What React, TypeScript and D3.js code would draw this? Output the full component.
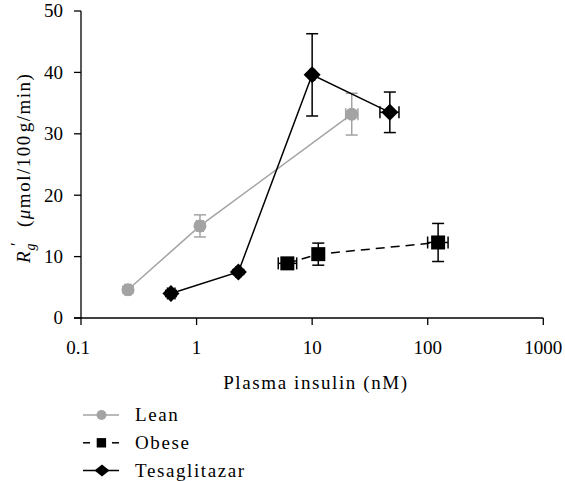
import React from "react";
import * as d3 from "d3";

const leanX = [0.255, 1.07, 22];
const leanY = [4.6, 15.0, 33.2];
const leanYErr = [0.5, 1.8, 3.4];
const leanXLo = [0.24, 1.0, 19.5];
const leanXHi = [0.27, 1.14, 24.9];

const obeseX = [6.1, 11.3, 123];
const obeseY = [8.9, 10.4, 12.3];
const obeseYErr = [0.6, 1.8, 3.1];
const obeseXLo = [5.09, 10.4, 99.8];
const obeseXHi = [7.35, 12.3, 150];

const tesX = [0.6, 2.3, 10, 47];
const tesY = [4.0, 7.5, 39.6, 33.5];
const tesYErr = [0.5, 0.4, 6.7, 3.3];
const tesXLo = [0.56, 2.2, 9.6, 38.6];
const tesXHi = [0.65, 2.4, 10.5, 56.4];

const xTicks = [0.1, 1, 10, 100, 1000];
const yTicks = [0, 10, 20, 30, 40, 50];
const legendLabels = ["Lean", "Obese", "Tesaglitazar"];

const W = 565, H = 481;
const FONT = '"Liberation Serif"';

export default function App() {
  const x = d3.scaleLog().domain([0.1, 1000]).range([81, 543.3]);
  const y = d3.scaleLinear().domain([0, 50]).range([318, 11]);
  const line = d3.line<[number, number]>().x(d => x(d[0])).y(d => y(d[1]));
  const zip = (a: number[], b: number[]) => a.map((v, i) => [v, b[i]] as [number, number]);

  const errBars = (xs: number[], ys: number[], ye: number[], xlo: number[], xhi: number[], color: string, key: string) =>
    xs.map((xv, i) => {
      const cx = x(xv), cy = y(ys[i]);
      const t = y(ys[i] + ye[i]), b = y(ys[i] - ye[i]);
      const l = x(xlo[i]), r = x(xhi[i]);
      return (
        <g key={key + i} stroke={color} strokeWidth={1.5} fill="none">
          <line x1={cx} x2={cx} y1={t} y2={b} />
          <line x1={cx - 6} x2={cx + 6} y1={t} y2={t} />
          <line x1={cx - 6} x2={cx + 6} y1={b} y2={b} />
          <line x1={l} x2={r} y1={cy} y2={cy} />
          <line x1={l} x2={l} y1={cy - 6} y2={cy + 6} />
          <line x1={r} x2={r} y1={cy - 6} y2={cy + 6} />
        </g>
      );
    });

  const gray = "#a3a3a3";
  const diamond = (cx: number, cy: number, rx: number, ry: number) =>
    `M${cx},${cy - ry}L${cx + rx},${cy}L${cx},${cy + ry}L${cx - rx},${cy}Z`;
  const word = { fontFamily: FONT, fontSize: 19, letterSpacing: 1.6 } as React.CSSProperties;
  const num = { fontFamily: FONT, fontSize: 19 } as React.CSSProperties;

  return (
    <svg width={W} height={H} style={{ position: "absolute", left: 0, top: 0 }}>
      <rect width={W} height={H} fill="#fff" />
      {/* axes */}
      <g stroke="#000" strokeWidth={1.3}>
        <line x1={81} x2={81} y1={y(50)} y2={y(0)} />
        <line x1={74} x2={x(1000)} y1={y(0)} y2={y(0)} />
        {yTicks.map(t => <line key={"yt" + t} x1={74} x2={81} y1={y(t)} y2={y(t)} />)}
        {xTicks.map(t => <line key={"xt" + t} x1={x(t)} x2={x(t)} y1={y(0)} y2={y(0) + 7} />)}
      </g>
      {yTicks.map(t => (
        <text key={"yl" + t} x={63} y={y(t)} dy="0.34em" textAnchor="end" style={num}>{t}</text>
      ))}
      {xTicks.map(t => (
        <text key={"xl" + t} x={x(t) - (t === 0.1 ? 3 : 0)} y={354} textAnchor="middle" style={num}>{t}</text>
      ))}
      <text x={316} y={389} textAnchor="middle" style={word}>Plasma insulin (nM)</text>
      <g transform="translate(30,263) rotate(-90)">
        <text x={0} y={0} style={{ fontFamily: FONT, fontSize: 19 }}>
          <tspan fontStyle="italic">R</tspan>
          <tspan fontStyle="italic" fontSize={14} dx={1} dy={5}>g</tspan>
        </text>
        <text x={17} y={-8} style={{ fontFamily: FONT, fontSize: 17 }}>′</text>
        <text x={36} y={0} style={{ fontFamily: FONT, fontSize: 19, letterSpacing: 1.5 }}>
          <tspan>(</tspan>
          <tspan fontStyle="italic">μ</tspan>
          <tspan>mol/100</tspan>
          <tspan dx={2}>g/min)</tspan>
        </text>
      </g>

      {/* Lean */}
      <path d={line(zip(leanX, leanY)) || ""} fill="none" stroke={gray} strokeWidth={1.5} />
      {errBars(leanX, leanY, leanYErr, leanXLo, leanXHi, gray, "le")}
      {leanX.map((v, i) => <circle key={"lc" + i} cx={x(v)} cy={y(leanY[i])} r={6.5} fill={gray} />)}

      {/* Obese */}
      <path d={line(zip(obeseX, obeseY)) || ""} fill="none" stroke="#000" strokeWidth={1.5} strokeDasharray="9,6" />
      {errBars(obeseX, obeseY, obeseYErr, obeseXLo, obeseXHi, "#000", "ob")}
      {obeseX.map((v, i) => <rect key={"os" + i} x={x(v) - 7} y={y(obeseY[i]) - 7} width={14} height={14} fill="#000" />)}

      {/* Tesaglitazar */}
      <path d={line(zip(tesX, tesY)) || ""} fill="none" stroke="#000" strokeWidth={1.5} />
      {errBars(tesX, tesY, tesYErr, tesXLo, tesXHi, "#000", "te")}
      {tesX.map((v, i) => <path key={"td" + i} d={diamond(x(v), y(tesY[i]), 8.5, 8.5)} fill="#000" />)}

      {/* legend */}
      {legendLabels.map((lab, i) => {
        const ly = 415 + i * 27.8;
        return (
          <g key={"lg" + i}>
            {i === 0 && <>
              <line x1={83} x2={119} y1={ly} y2={ly} stroke={gray} strokeWidth={1.5} />
              <circle cx={101.5} cy={ly} r={5} fill={gray} />
            </>}
            {i === 1 && <>
              <line x1={83} x2={90} y1={ly} y2={ly} stroke="#000" strokeWidth={1.5} />
              <line x1={112} x2={119} y1={ly} y2={ly} stroke="#000" strokeWidth={1.5} />
              <rect x={96.7} y={ly - 4.7} width={9.4} height={9.4} fill="#000" />
            </>}
            {i === 2 && <>
              <line x1={83} x2={119} y1={ly} y2={ly} stroke="#000" strokeWidth={1.5} />
              <path d={diamond(102, ly, 7.5, 6)} fill="#000" />
            </>}
            <text x={135} y={ly + 6} style={word}>{lab}</text>
          </g>
        );
      })}
    </svg>
  );
}
